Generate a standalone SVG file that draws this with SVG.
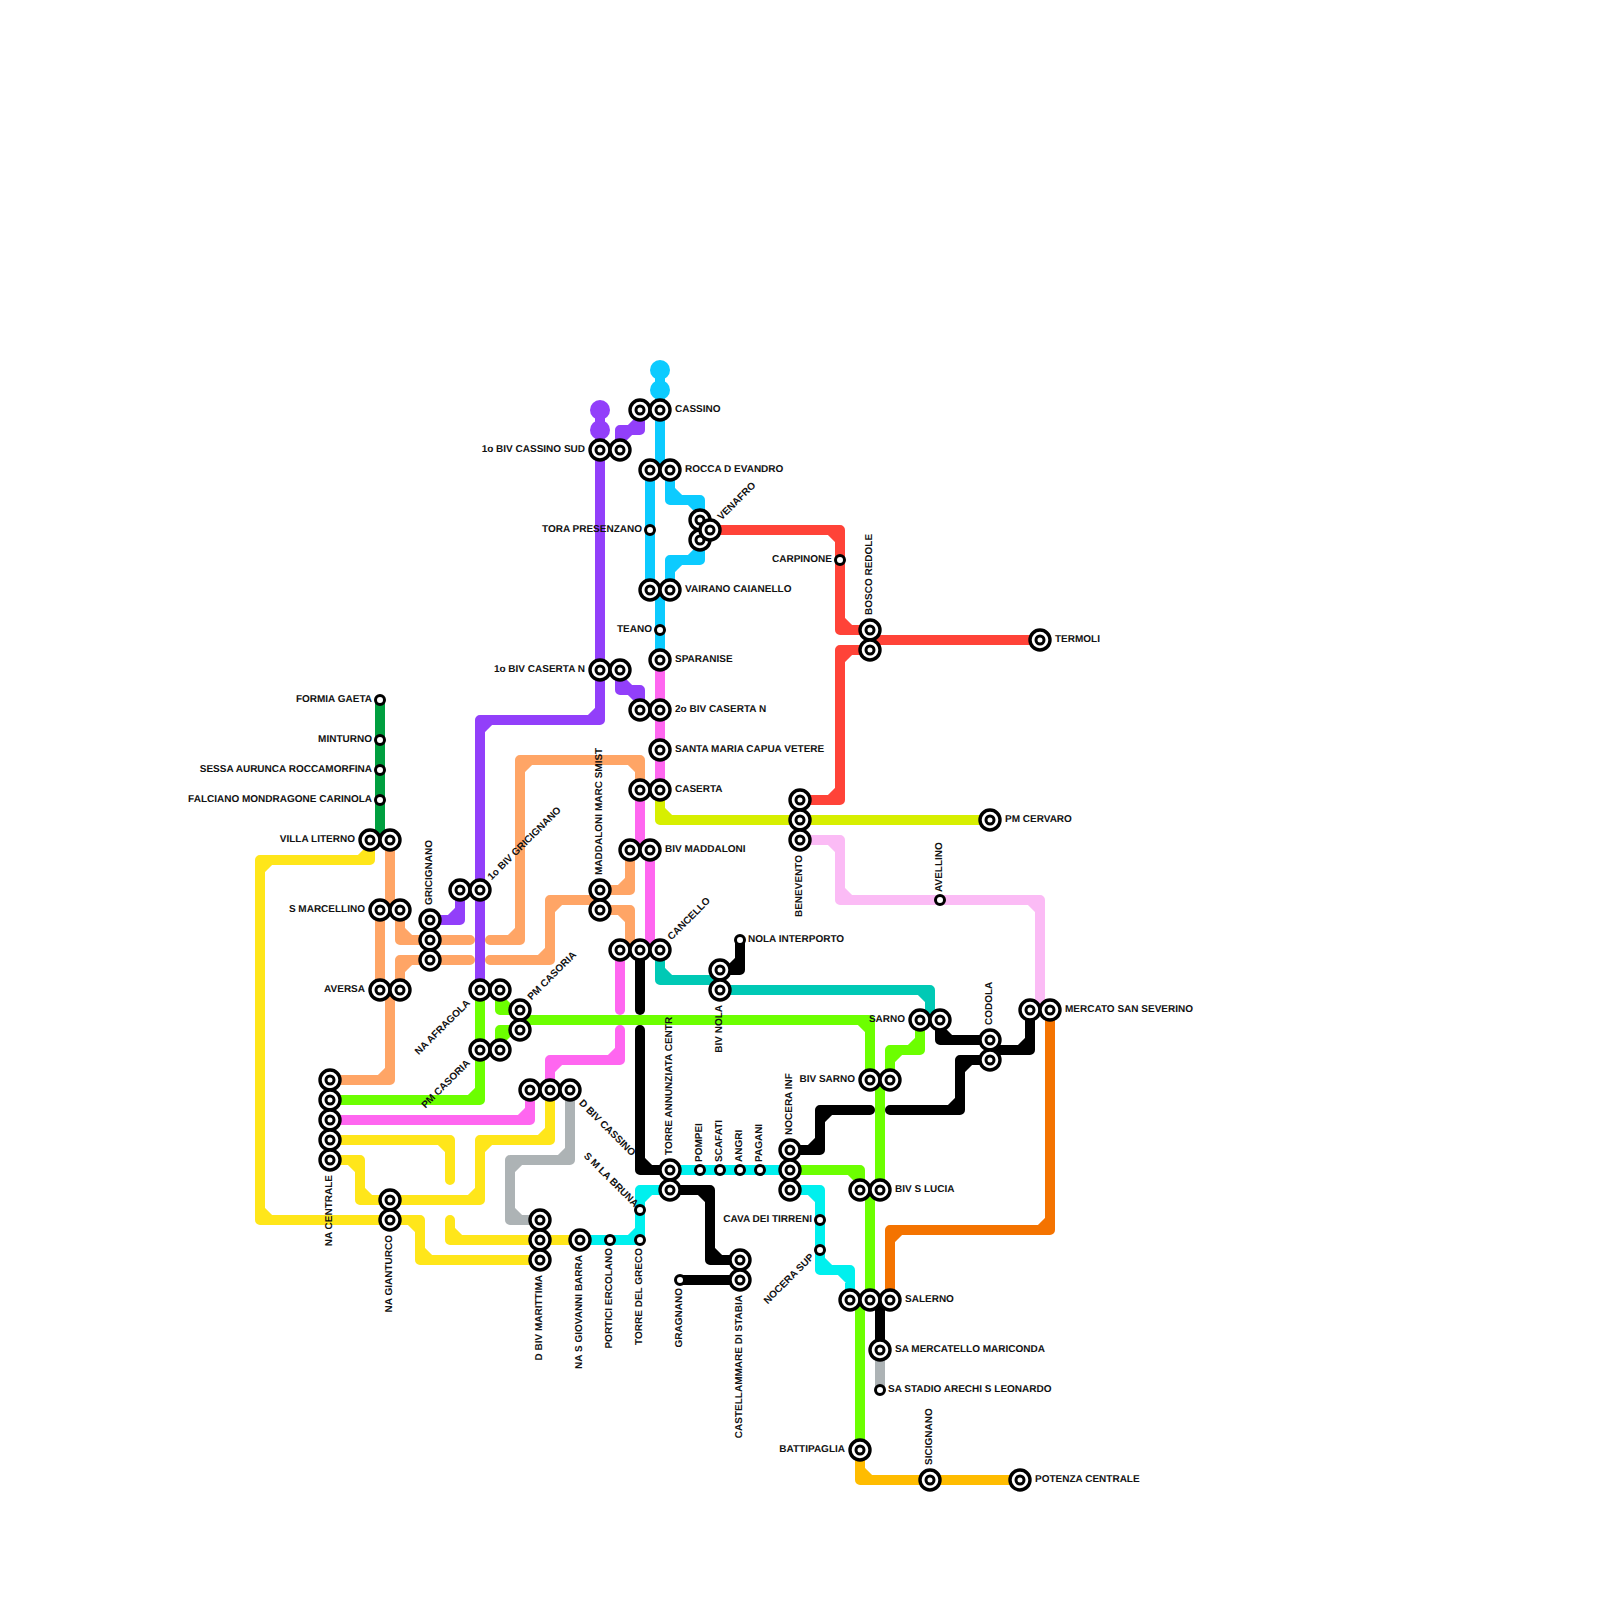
<svg xmlns="http://www.w3.org/2000/svg" width="1600" height="1600" viewBox="0 0 1600 1600">
<style>
.l{fill:currentColor}
.l path{fill:none;stroke:currentColor;stroke-width:10;stroke-linecap:round;stroke-linejoin:round}
.green{color:#009f3f}.yellow{color:#ffe61a}.gray{color:#adb3b5}.magenta{color:#ff66f0}.peach{color:#ffa566}
.purple{color:#923ffa}.blue{color:#0ccbff}.olive{color:#d7ef00}.red{color:#ff4338}.pink{color:#fbbbf5}
.teal{color:#00c9b5}.lime{color:#6cff00}.gold{color:#ffbc00}.orange{color:#f47300}.black{color:#000}.cyan{color:#00f0ee}
.ring{fill:#fff;stroke:#000}
text{font-family:"Liberation Sans",Arial,sans-serif;font-weight:700;font-size:10px;fill:#111;text-rendering:geometricPrecision}
.e{text-anchor:end}
</style>
<defs>
<g id="b"><circle class="ring" r="10" stroke-width="3.4"/><circle class="ring" r="4" stroke-width="3"/></g>
<circle id="s" class="ring" r="4.5" stroke-width="3"/>
</defs>
<g id="connectors">
<g class="l green"><path d="M380 700V840"/></g>
<g class="l yellow">
<path d="M370 840V850L360 860H270L260 870V1210L270 1220H410L420 1230V1250L430 1260H540M370 850V860H260V1220H420V1260H430"/>
<path d="M330 1160H350L360 1170V1190L370 1200H470L480 1190V1150L490 1140H540L550 1130V1090M350 1160H360V1200H480V1140H550V1130"/>
<path d="M330 1140H440L450 1150V1180M440 1140H450V1150"/>
<path d="M450 1220V1230L460 1240H580M450 1230V1240H460"/>
</g>
<g class="l gray">
<path d="M570 1090V1150L560 1160H520L510 1170V1210L520 1220H540M570 1150V1160H510V1220H520"/>
<path d="M880 1350V1390"/>
</g>
<g class="l peach">
<path d="M390 840V910"/>
<path d="M390 990V1070L380 1080H330M390 1070V1080H380"/>
<path d="M380 910V990"/>
<path d="M400 910V930L410 940H470M400 930V940H410"/>
<path d="M400 990V970L410 960H470M400 970V960H410"/>
<path d="M490 940H510L520 930V770L530 760H630L640 770V790M510 940H520V760H640V770"/>
<path d="M490 960H540L550 950V910L560 900H600M540 960H550V900H560"/>
<path d="M600 890H620L630 880V850M620 890H630V880"/>
<path d="M600 910H620L630 920V950M620 910H630V920"/>
</g>
<g class="l purple">
<circle cx="600" cy="410" r="10"/><circle cx="600" cy="430" r="10"/>
<path d="M600 410V710L590 720H490L480 730V990M600 710V720H480V730"/>
<path d="M620 450V440L630 430L640 420V410M620 440V430H640V420"/>
<path d="M620 670V680L630 690L640 700V710M620 680V690H640V700"/>
<path d="M430 920H450L460 910V890M450 920H460V910"/>
</g>
<g class="l blue">
<circle cx="660" cy="370" r="10"/><circle cx="660" cy="390" r="10"/>
<path d="M660 370V470"/><path d="M650 470V590"/><path d="M660 590V660"/>
<path d="M670 470V490L680 500H690L700 510V520M670 490V500H700V510"/>
<path d="M700 540V550L690 560H680L670 570V590M700 550V560H670V570"/>
</g>
<g class="l magenta">
<path d="M330 1120H520L530 1110V1090M520 1120H530V1110"/>
<path d="M550 1090V1070L560 1060H610L620 1050V1030M550 1070V1060H620V1050"/>
<path d="M620 950V1010"/>
<path d="M660 660V790"/><path d="M640 790V850"/><path d="M650 850V950"/>
</g>
<g class="l olive"><path d="M660 790V810L670 820H990M660 810V820H670"/></g>
<g class="l red">
<path d="M710 530H830L840 540V620L850 630H870M830 530H840V630H850"/>
<path d="M870 640H1040"/>
<path d="M870 650H850L840 660V790L830 800H800M850 650H840V800H830"/>
</g>
<g class="l pink"><path d="M800 840H830L840 850V890L850 900H1030L1040 910V1010M830 840H840V900H1040V910"/></g>
<g class="l teal">
<path d="M660 950V970L670 980H720M660 970V980H670"/>
<path d="M720 990H920L930 1000V1020M920 990H930V1000"/>
</g>
<g class="l orange"><path d="M1050 1010V1220L1040 1230H900L890 1240V1300M1050 1220V1230H890V1240"/></g>
<g class="l gold"><path d="M860 1450V1470L870 1480H1020M860 1470V1480H870"/></g>
<g class="l black">
<path d="M640 950V1010"/>
<path d="M640 1030V1160L650 1170H670M640 1160V1170H650"/>
<path d="M670 1190H700L710 1200V1250L720 1260H740M700 1190H710V1260H720"/>
<path d="M680 1280H740"/>
<path d="M720 970H730L740 960V940M730 970H740V960"/>
<path d="M790 1150H810L820 1140V1120L830 1110H870M810 1150H820V1110H830"/>
<path d="M890 1110H950L960 1100V1070L970 1060H990M950 1110H960V1060H970"/>
<path d="M940 1020V1030L950 1040H990M940 1030V1040H950"/>
<path d="M990 1050H1020L1030 1040V1010M1020 1050H1030V1040"/>
<path d="M880 1300V1350"/>
</g>
<g class="l lime">
<path d="M520 1020H860L870 1030V1080M860 1020H870V1030"/>
<path d="M500 990V1000L510 1010H520M500 1000V1010H510"/>
<path d="M500 1050V1040L510 1030H520M500 1040V1030H510"/>
<path d="M480 990V1090L470 1100H330M480 1090V1100H470"/>
<path d="M880 1080V1190"/>
<path d="M890 1080V1060L900 1050H910L920 1040V1020M890 1060V1050H920V1040"/>
<path d="M790 1170H850L860 1180V1190M850 1170H860V1180"/>
<path d="M870 1190V1300"/><path d="M860 1300V1450"/>
</g>
<g class="l cyan">
<path d="M670 1170H790"/>
<path d="M790 1190H810L820 1200V1260L830 1270H840L850 1280V1300M810 1190H820V1270H850V1280"/>
<path d="M580 1240H630L640 1230V1200L650 1190H670M630 1240H640V1190H650"/>
</g>
</g>
<g id="nodes">
<g id="n-formia"><use href="#s" x="380" y="700"/><text class="e" x="372" y="703" dy="-.6">FORMIA GAETA</text></g>
<g id="n-minturno"><use href="#s" x="380" y="740"/><text class="e" x="372" y="743" dy="-.6">MINTURNO</text></g>
<g id="n-sessa"><use href="#s" x="380" y="770"/><text class="e" x="372" y="773" dy="-.6">SESSA AURUNCA ROCCAMORFINA</text></g>
<g id="n-falciano"><use href="#s" x="380" y="800"/><text class="e" x="372" y="803" dy="-.6">FALCIANO MONDRAGONE CARINOLA</text></g>
<g id="n-villa"><use href="#b" x="370" y="840"/><use href="#b" x="390" y="840"/><text class="e" x="355" y="843" dy="-.6">VILLA LITERNO</text></g>
<g id="n-marcellino"><use href="#b" x="380" y="910"/><use href="#b" x="400" y="910"/><text class="e" x="365" y="913" dy="-.6">S MARCELLINO</text></g>
<g id="n-gricignano"><use href="#b" x="430" y="920"/><use href="#b" x="430" y="940"/><use href="#b" x="430" y="960"/><text transform="translate(433 905) rotate(-90)" dy="-.6">GRICIGNANO</text></g>
<g id="n-1biv-gric"><use href="#b" x="460" y="890"/><use href="#b" x="480" y="890"/><text transform="translate(492 881) rotate(-45)" dy="-.6">1o BIV GRICIGNANO</text></g>
<g id="n-aversa"><use href="#b" x="380" y="990"/><use href="#b" x="400" y="990"/><text class="e" x="365" y="993" dy="-.6">AVERSA</text></g>
<g id="n-afragola"><use href="#b" x="480" y="990"/><use href="#b" x="500" y="990"/><text class="e" transform="translate(471 1004) rotate(-45)" dy="-.6">NA AFRAGOLA</text></g>
<g id="n-pmcasoria1"><use href="#b" x="520" y="1010"/><use href="#b" x="520" y="1030"/><text transform="translate(532 1001) rotate(-45)" dy="-.6">PM CASORIA</text></g>
<g id="n-pmcasoria2"><use href="#b" x="480" y="1050"/><use href="#b" x="500" y="1050"/><text class="e" transform="translate(471 1064) rotate(-45)" dy="-.6">PM CASORIA</text></g>
<g id="n-maddaloni-m"><use href="#b" x="600" y="890"/><use href="#b" x="600" y="910"/><text transform="translate(603 875) rotate(-90)" dy="-.6">MADDALONI MARC SMIST</text></g>
<g id="n-centrale"><use href="#b" x="330" y="1080"/><use href="#b" x="330" y="1100"/><use href="#b" x="330" y="1120"/><use href="#b" x="330" y="1140"/><use href="#b" x="330" y="1160"/><text class="e" transform="translate(333 1175) rotate(-90)" dy="-.6">NA CENTRALE</text></g>
<g id="n-gianturco"><use href="#b" x="390" y="1200"/><use href="#b" x="390" y="1220"/><text class="e" transform="translate(393 1235) rotate(-90)" dy="-.6">NA GIANTURCO</text></g>
<g id="n-dbiv-cassino"><use href="#b" x="530" y="1090"/><use href="#b" x="550" y="1090"/><use href="#b" x="570" y="1090"/><text transform="translate(578 1104) rotate(45)" dy="-.6">D BIV CASSINO</text></g>
<g id="n-dbiv-marittima"><use href="#b" x="540" y="1220"/><use href="#b" x="540" y="1240"/><use href="#b" x="540" y="1260"/><text class="e" transform="translate(543 1275) rotate(-90)" dy="-.6">D BIV MARITTIMA</text></g>
<g id="n-giovanni"><use href="#b" x="580" y="1240"/><text class="e" transform="translate(583 1255) rotate(-90)" dy="-.6">NA S GIOVANNI BARRA</text></g>
<g id="n-portici"><use href="#s" x="610" y="1240"/><text class="e" transform="translate(613 1248) rotate(-90)" dy="-.6">PORTICI ERCOLANO</text></g>
<g id="n-torregreco"><use href="#s" x="640" y="1240"/><text class="e" transform="translate(643 1248) rotate(-90)" dy="-.6">TORRE DEL GRECO</text></g>
<g id="n-bruna"><use href="#s" x="640" y="1210"/><text class="e" transform="translate(634 1208) rotate(45)" dy="-.6">S M LA BRUNA</text></g>
<g id="n-cassino"><use href="#b" x="640" y="410"/><use href="#b" x="660" y="410"/><text x="675" y="413" dy="-.6">CASSINO</text></g>
<g id="n-1biv-cassino"><use href="#b" x="600" y="450"/><use href="#b" x="620" y="450"/><text class="e" x="585" y="453" dy="-.6">1o BIV CASSINO SUD</text></g>
<g id="n-rocca"><use href="#b" x="650" y="470"/><use href="#b" x="670" y="470"/><text x="685" y="473" dy="-.6">ROCCA D EVANDRO</text></g>
<g id="n-tora"><use href="#s" x="650" y="530"/><text class="e" x="642" y="533" dy="-.6">TORA PRESENZANO</text></g>
<g id="n-venafro"><use href="#b" x="700" y="520"/><use href="#b" x="700" y="540"/><use href="#b" x="710" y="530"/><text transform="translate(722 521) rotate(-45)" dy="-.6">VENAFRO</text></g>
<g id="n-vairano"><use href="#b" x="650" y="590"/><use href="#b" x="670" y="590"/><text x="685" y="593" dy="-.6">VAIRANO CAIANELLO</text></g>
<g id="n-teano"><use href="#s" x="660" y="630"/><text class="e" x="652" y="633" dy="-.6">TEANO</text></g>
<g id="n-sparanise"><use href="#b" x="660" y="660"/><text x="675" y="663" dy="-.6">SPARANISE</text></g>
<g id="n-1biv-caserta"><use href="#b" x="600" y="670"/><use href="#b" x="620" y="670"/><text class="e" x="585" y="673" dy="-.6">1o BIV CASERTA N</text></g>
<g id="n-2biv-caserta"><use href="#b" x="640" y="710"/><use href="#b" x="660" y="710"/><text x="675" y="713" dy="-.6">2o BIV CASERTA N</text></g>
<g id="n-smcv"><use href="#b" x="660" y="750"/><text x="675" y="753" dy="-.6">SANTA MARIA CAPUA VETERE</text></g>
<g id="n-carpinone"><use href="#s" x="840" y="560"/><text class="e" x="832" y="563" dy="-.6">CARPINONE</text></g>
<g id="n-bosco"><use href="#b" x="870" y="630"/><use href="#b" x="870" y="650"/><text transform="translate(873 615) rotate(-90)" dy="-.6">BOSCO REDOLE</text></g>
<g id="n-termoli"><use href="#b" x="1040" y="640"/><text x="1055" y="643" dy="-.6">TERMOLI</text></g>
<g id="n-caserta"><use href="#b" x="640" y="790"/><use href="#b" x="660" y="790"/><text x="675" y="793" dy="-.6">CASERTA</text></g>
<g id="n-bivmaddaloni"><use href="#b" x="630" y="850"/><use href="#b" x="650" y="850"/><text x="665" y="853" dy="-.6">BIV MADDALONI</text></g>
<g id="n-cancello"><use href="#b" x="620" y="950"/><use href="#b" x="640" y="950"/><use href="#b" x="660" y="950"/><text transform="translate(672 941) rotate(-45)" dy="-.6">CANCELLO</text></g>
<g id="n-benevento"><use href="#b" x="800" y="800"/><use href="#b" x="800" y="820"/><use href="#b" x="800" y="840"/><text class="e" transform="translate(803 855) rotate(-90)" dy="-.6">BENEVENTO</text></g>
<g id="n-cervaro"><use href="#b" x="990" y="820"/><text x="1005" y="823" dy="-.6">PM CERVARO</text></g>
<g id="n-avellino"><use href="#s" x="940" y="900"/><text transform="translate(943 892) rotate(-90)" dy="-.6">AVELLINO</text></g>
<g id="n-nolai"><use href="#s" x="740" y="940"/><text x="748" y="943" dy="-.6">NOLA INTERPORTO</text></g>
<g id="n-bivnola"><use href="#b" x="720" y="970"/><use href="#b" x="720" y="990"/><text class="e" transform="translate(723 1005) rotate(-90)" dy="-.6">BIV NOLA</text></g>
<g id="n-sarno"><use href="#b" x="920" y="1020"/><use href="#b" x="940" y="1020"/><text class="e" x="905" y="1023" dy="-.6">SARNO</text></g>
<g id="n-bivsarno"><use href="#b" x="870" y="1080"/><use href="#b" x="890" y="1080"/><text class="e" x="855" y="1083" dy="-.6">BIV SARNO</text></g>
<g id="n-torreann"><use href="#b" x="670" y="1170"/><use href="#b" x="670" y="1190"/><text transform="translate(673 1155) rotate(-90)" dy="-.6">TORRE ANNUNZIATA CENTR</text></g>
<g id="n-pompei"><use href="#s" x="700" y="1170"/><text transform="translate(703 1162) rotate(-90)" dy="-.6">POMPEI</text></g>
<g id="n-scafati"><use href="#s" x="720" y="1170"/><text transform="translate(723 1162) rotate(-90)" dy="-.6">SCAFATI</text></g>
<g id="n-angri"><use href="#s" x="740" y="1170"/><text transform="translate(743 1162) rotate(-90)" dy="-.6">ANGRI</text></g>
<g id="n-pagani"><use href="#s" x="760" y="1170"/><text transform="translate(763 1162) rotate(-90)" dy="-.6">PAGANI</text></g>
<g id="n-nocerainf"><use href="#b" x="790" y="1150"/><use href="#b" x="790" y="1170"/><use href="#b" x="790" y="1190"/><text transform="translate(793 1135) rotate(-90)" dy="-.6">NOCERA INF</text></g>
<g id="n-bivlucia"><use href="#b" x="860" y="1190"/><use href="#b" x="880" y="1190"/><text x="895" y="1193" dy="-.6">BIV S LUCIA</text></g>
<g id="n-cava"><use href="#s" x="820" y="1220"/><text class="e" x="812" y="1223" dy="-.6">CAVA DEI TIRRENI</text></g>
<g id="n-nocerasup"><use href="#s" x="820" y="1250"/><text class="e" transform="translate(815 1258) rotate(-45)" dy="-.6">NOCERA SUP</text></g>
<g id="n-castellammare"><use href="#b" x="740" y="1260"/><use href="#b" x="740" y="1280"/><text class="e" transform="translate(743 1295) rotate(-90)" dy="-.6">CASTELLAMMARE DI STABIA</text></g>
<g id="n-gragnano"><use href="#s" x="680" y="1280"/><text class="e" transform="translate(683 1288) rotate(-90)" dy="-.6">GRAGNANO</text></g>
<g id="n-salerno"><use href="#b" x="850" y="1300"/><use href="#b" x="870" y="1300"/><use href="#b" x="890" y="1300"/><text x="905" y="1303" dy="-.6">SALERNO</text></g>
<g id="n-mercatello"><use href="#b" x="880" y="1350"/><text x="895" y="1353" dy="-.6">SA MERCATELLO MARICONDA</text></g>
<g id="n-stadio"><use href="#s" x="880" y="1390"/><text x="888" y="1393" dy="-.6">SA STADIO ARECHI S LEONARDO</text></g>
<g id="n-battipaglia"><use href="#b" x="860" y="1450"/><text class="e" x="845" y="1453" dy="-.6">BATTIPAGLIA</text></g>
<g id="n-sicignano"><use href="#b" x="930" y="1480"/><text transform="translate(933 1465) rotate(-90)" dy="-.6">SICIGNANO</text></g>
<g id="n-potenza"><use href="#b" x="1020" y="1480"/><text x="1035" y="1483" dy="-.6">POTENZA CENTRALE</text></g>
<g id="n-codola"><use href="#b" x="990" y="1040"/><use href="#b" x="990" y="1060"/><text transform="translate(993 1025) rotate(-90)" dy="-.6">CODOLA</text></g>
<g id="n-mercato"><use href="#b" x="1030" y="1010"/><use href="#b" x="1050" y="1010"/><text x="1065" y="1013" dy="-.6">MERCATO SAN SEVERINO</text></g>
</g>
</svg>
